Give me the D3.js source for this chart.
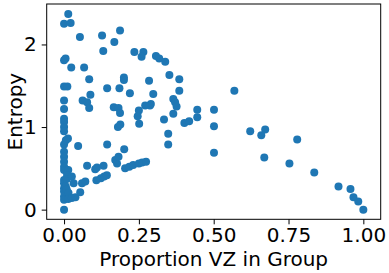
<!DOCTYPE html>
<html>
<head>
<meta charset="utf-8">
<script src="https://cdn.jsdelivr.net/npm/d3@7"></script>
<style>
  html, body { margin: 0; padding: 0; background: #fff; }
  text { font-family: "DejaVu Sans", sans-serif; }
</style>
</head>
<body>
<div id="chart"></div>
<script>
// proportion of VZ in group (x) and entropy (y)
const propVZ = [
  0, 0, 0, 0, 0, 0, 0, 0, 0, 0, 0, 0, 0, 0, 0, 0, 0, 0, 0, 0, 0, 0,
  0.005, 0.011, 0.014, 0.022, 0.024, 0.006, 0.013, 0.014, 0.010, 0.009, 0.026, 0.032,
  0.006, 0.009, 0.015, 0.014, 0.026, 0.038,
  0.053, 0.067, 0.084, 0.088, 0.062, 0.077, 0.084, 0.047, 0.054, 0.060, 0.071,
  0.077, 0.104, 0.110, 0.132, 0.108, 0.123, 0.134, 0.143,
  0.127, 0.187, 0.168, 0.131, 0.144, 0.185, 0.200, 0.200, 0.166, 0.182, 0.187,
  0.180, 0.188, 0.144, 0.201, 0.177, 0.171, 0.182,
  0.204, 0.218, 0.231, 0.250, 0.261, 0.274,
  0.235, 0.265, 0.259, 0.307, 0.318, 0.338, 0.352, 0.385, 0.284, 0.220, 0.298, 0.385,
  0.365, 0.371, 0.376, 0.365, 0.290, 0.287, 0.271, 0.250, 0.246, 0.251,
  0.445, 0.445, 0.334, 0.348, 0.348, 0.402, 0.418,
  0.501, 0.501, 0.501, 0.569, 0.622, 0.659, 0.672, 0.669, 0.779, 0.753, 0.836,
  0.917, 0.957, 0.967, 0.983, 1.000
];
const entropy = [
  2.25, 1.81, 1.49, 1.32, 1.22, 1.10, 1.06, 1.00, 0.95, 0.79, 0.70, 0.64, 0.58, 0.52, 0.48, 0.36, 0.32, 0.26, 0.22, 0.16, 0.12, 0.00,
  1.83, 1.49, 2.37, 2.26, 1.72, 0.84, 0.86, 0.48, 0.42, 0.37, 0.40, 0.32,
  0.28, 0.24, 0.20, 0.13, 0.14, 0.15,
  2.09, 1.72, 1.58, 1.39, 1.32, 1.30, 1.23, 0.77, 0.21, 0.32, 0.34,
  0.53, 0.49, 0.51, 0.53, 0.355, 0.38, 0.40, 0.415,
  2.11, 2.17, 2.03, 1.92, 1.47, 1.47, 1.60, 1.57, 1.24, 1.23, 1.17,
  1.00, 1.03, 0.79, 0.73, 0.56, 0.60, 0.64,
  0.50, 0.52, 0.54, 0.56, 0.57, 0.58,
  1.91, 1.91, 1.85, 1.86, 1.83, 1.79, 1.63, 1.58, 1.56, 1.41, 1.40, 1.44,
  1.34, 1.30, 1.25, 1.16, 1.28, 1.26, 1.26, 1.20, 1.13, 1.04,
  1.21, 1.12, 1.09, 0.92, 0.79, 1.05, 1.07,
  1.21, 1.01, 0.69, 1.44, 0.95, 0.90, 0.97, 0.63, 0.85, 0.56, 0.45,
  0.28, 0.25, 0.15, 0.10, 0.00
];
const xTicks = [0, 0.25, 0.5, 0.75, 1.0];
const yTicks = [0, 1, 2];

const W = 389, H = 273;
const margin = { top: 4, right: 8.3, bottom: 53.7, left: 46.7 };
const width = W - margin.left - margin.right;
const height = H - margin.top - margin.bottom;

const svg = d3.select("#chart").append("svg")
  .attr("width", W).attr("height", H);
const g = svg.append("g")
  .attr("transform", `translate(${margin.left},${margin.top})`);

const x = d3.scaleLinear().domain([-0.058, 1.058]).range([0, width]);
const y = d3.scaleLinear().domain([-0.117, 2.49]).range([height, 0]);

const pts = propVZ.map((v, i) => ({ x: v, y: entropy[i] }));

g.selectAll("circle").data(pts).enter().append("circle")
  .attr("cx", d => x(d.x))
  .attr("cy", d => y(d.y))
  .attr("r", 4)
  .attr("fill", "#1f77b4");

// axes, matplotlib style
const xAxis = g.append("g")
  .attr("transform", `translate(0,${height})`)
  .call(d3.axisBottom(x).tickValues(xTicks).tickFormat(d3.format(".2f")).tickSize(5).tickPadding(4));
const yAxis = g.append("g")
  .call(d3.axisLeft(y).tickValues(yTicks).tickFormat(d3.format("d")).tickSize(5).tickPadding(5));

[xAxis, yAxis].forEach(a => {
  a.select(".domain").remove();
  a.selectAll("line").attr("stroke", "#000").attr("stroke-width", 1);
  a.selectAll("text").attr("font-size", 20).attr("fill", "#000")
    .attr("font-family", "DejaVu Sans, sans-serif");
});

// frame
g.append("rect")
  .attr("width", width).attr("height", height)
  .attr("fill", "none").attr("stroke", "#000").attr("stroke-width", 1);

svg.append("text")
  .attr("x", margin.left + width / 2).attr("y", 266)
  .attr("text-anchor", "middle").attr("font-size", 20)
  .text("Proportion VZ in Group");

svg.append("text")
  .attr("transform", `translate(22,${margin.top + height / 2}) rotate(-90)`)
  .attr("text-anchor", "middle").attr("font-size", 20)
  .text("Entropy");
</script>
</body>
</html>
